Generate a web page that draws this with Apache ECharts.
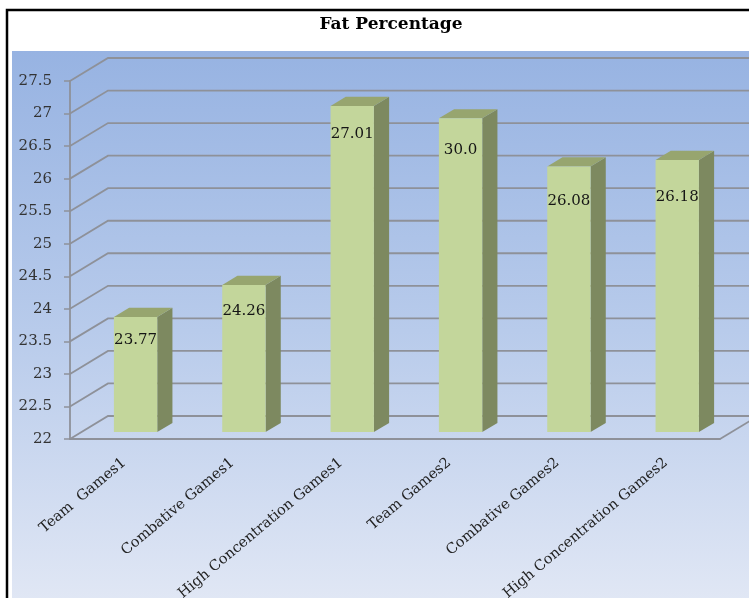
<!DOCTYPE html>
<html>
<head>
<meta charset="utf-8">
<script src="https://cdn.jsdelivr.net/npm/echarts@6/dist/echarts.min.js"></script>
<style>
  html, body { margin: 0; padding: 0; background: #fff; }
  #chart { width: 749px; height: 598px; }
</style>
</head>
<body>
<div id="chart"></div>
<script>
const categories = ['Team  Games1', 'Combative Games1', 'High Concentration Games1', 'Team Games2', 'Combative Games2', 'High Concentration Games2']
const fatValues = [23.77, 24.26, 27.01, 26.82, 26.08, 26.18]
const barLabels = ['23.77', '24.26', '27.01', '30.0', '26.08', '26.18']
const yTicks = [22, 22.5, 23, 23.5, 24, 24.5, 25, 25.5, 26, 26.5, 27, 27.5]

// fake 3d: depth of the wall and where the bars sit inside it
const DX = 38
const DY = 23
const BAR_POS = 0.3
const BAR_DEPTH = 0.4
const SERIF = '"DejaVu Serif", "Liberation Serif", serif'
const LINE = '#8e9199'

const chart = echarts.init(document.getElementById('chart'))

const renderWall = (params, api) => {
  const cs = params.coordSys
  const y = api.coord([0, api.value(1)])[1]
  const x = cs.x
  const children = [{
    type: 'polyline',
    shape: { points: [[x, y], [x + DX, y - DY], [800, y - DY]] },
    style: { stroke: LINE, lineWidth: 1.8, fill: null }
  }]
  if (api.value(1) === yTicks[0]) {
    const xr = cs.x + cs.width
    children.push({
      type: 'line',
      shape: { x1: xr, y1: y, x2: xr + DX, y2: y - DY },
      style: { stroke: LINE, lineWidth: 1.8 }
    })
  }
  return { type: 'group', children }
}

const renderBar = (params, api) => {
  const idx = api.value(0)
  const top = api.coord([idx, api.value(1)])
  const base = api.coord([idx, yTicks[0]])
  const band = api.size([1, 0])[0]
  const w = band * 0.4
  const ox = DX * BAR_POS
  const oy = DY * BAR_POS
  const dx = DX * BAR_DEPTH
  const dy = DY * BAR_DEPTH
  const x0 = top[0] - w / 2 + ox
  const x1 = x0 + w
  const yT = top[1] - oy
  const yB = base[1] - oy
  return {
    type: 'group',
    children: [
      {
        type: 'polygon',
        shape: { points: [[x1, yT], [x1 + dx, yT - dy], [x1 + dx, yB - dy], [x1, yB]] },
        style: { fill: '#7d8960' }
      },
      {
        type: 'polygon',
        shape: { points: [[x0, yT], [x1, yT], [x1 + dx, yT - dy], [x0 + dx, yT - dy]] },
        style: { fill: '#97a56f' }
      },
      {
        type: 'rect',
        shape: { x: x0, y: yT, width: w, height: yB - yT },
        style: { fill: '#c3d69b' }
      },
      {
        type: 'text',
        style: {
          text: barLabels[idx],
          x: (x0 + x1) / 2,
          y: yT + 23 + idx * 2.8,
          align: 'center',
          verticalAlign: 'middle',
          font: '15px ' + SERIF,
          fill: '#151515'
        }
      }
    ]
  }
}

const option = {
  animation: false,
  graphic: [
    {
      type: 'rect',
      z: -10,
      shape: { x: 12, y: 51, width: 760, height: 560 },
      style: {
        fill: new echarts.graphic.LinearGradient(0, 0, 0, 1, [
          { offset: 0, color: '#97b3e2' },
          { offset: 0.5, color: '#b8cbeb' },
          { offset: 1, color: '#e2e8f5' }
        ])
      }
    },
    {
      type: 'polyline',
      z: 10,
      shape: { points: [[7, 620], [7, 10], [760, 10]] },
      style: { stroke: '#000', lineWidth: 2.5, fill: null }
    },
    {
      type: 'text',
      z: 10,
      style: {
        text: 'Fat Percentage',
        x: 391,
        y: 25,
        align: 'center',
        verticalAlign: 'middle',
        font: 'bold 17px ' + SERIF,
        fill: '#000'
      }
    }
  ],
  grid: {
    left: 70,
    right: 29,
    top: 81,
    bottom: 159,
    outerBoundsMode: 'none'
  },
  xAxis: {
    type: 'category',
    data: categories,
    axisLine: { lineStyle: { color: LINE, width: 1.8 } },
    axisTick: { length: 5, lineStyle: { color: LINE, width: 1.5 } },
    axisLabel: {
      rotate: 40,
      margin: 22,
      interval: 0,
      fontFamily: SERIF,
      fontSize: 14.5,
      color: '#222'
    }
  },
  yAxis: {
    type: 'value',
    min: 22,
    max: 27.5,
    interval: 0.5,
    axisLine: { show: true, lineStyle: { color: LINE, width: 1.8 } },
    axisTick: { show: true, length: 6, lineStyle: { color: LINE, width: 1.5 } },
    splitLine: { show: false },
    axisLabel: {
      margin: 18,
      fontFamily: SERIF,
      fontSize: 15,
      color: '#333'
    }
  },
  series: [
    {
      type: 'custom',
      name: 'walls',
      z: 1,
      clip: false,
      silent: true,
      encode: { x: 0, y: 1 },
      data: yTicks.map(v => [0, v]),
      renderItem: renderWall
    },
    {
      type: 'custom',
      name: 'Fat Percentage',
      z: 3,
      clip: false,
      encode: { x: 0, y: 1 },
      data: fatValues.map((v, i) => [i, v]),
      renderItem: renderBar
    }
  ]
}

chart.setOption(option)
</script>
</body>
</html>
